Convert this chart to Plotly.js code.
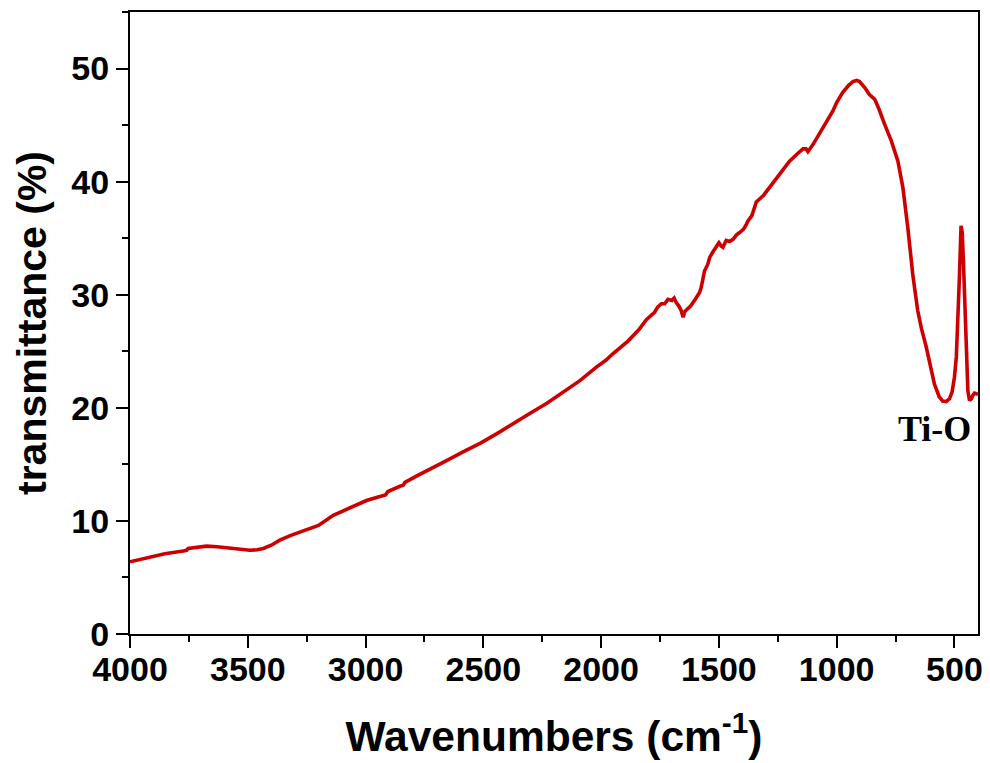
<!DOCTYPE html>
<html>
<head>
<meta charset="utf-8">
<script src="https://cdn.plot.ly/plotly-3.0.1.min.js"></script>
<style>html,body{margin:0;padding:0;background:#fff;}#chart{width:990px;height:763px;}</style>
</head>
<body>
<div id="chart"></div>
<script>
// Wavenumbers (cm^-1) and transmittance (%)
const wavenumber = [4000,3915,3852,3774,3760,3753,3720,3675,3630,3590,3540,3491,3460,3434,3400,3364,3320,3279,3200,3137,3070,2996,2950,2932,2915,2905,2880,2854,2840,2833,2780,2727,2650,2586,2510,2444,2370,2303,2230,2162,2090,2020,1980,1949,1886,1840,1808,1773,1760,1744,1730,1716,1700,1690,1681,1670,1660,1652,1645,1638,1620,1600,1582,1575,1561,1547,1539,1525,1511,1500,1490,1483,1469,1455,1440,1425,1412,1395,1384,1377,1360,1341,1310,1271,1240,1200,1170,1143,1130,1122,1100,1073,1044,1016,1000,974,950,931,915,903,880,861,839,820,797,768,740,719,698,677,656,640,620,600,585,565,550,535,521,510,500,492,486,479,472,467,462,456,450,443,436,428,422,415,408,400];
const transmittance = [6.38,6.77,7.1,7.33,7.4,7.56,7.65,7.77,7.72,7.62,7.48,7.41,7.45,7.56,7.85,8.3,8.7,9.03,9.6,10.5,11.1,11.8,12.1,12.18,12.3,12.6,12.85,13.06,13.15,13.4,14.0,14.6,15.4,16.1,16.9,17.7,18.6,19.5,20.4,21.4,22.4,23.6,24.2,24.8,25.9,26.9,27.8,28.45,28.9,29.2,29.2,29.6,29.5,29.7,29.3,29.0,28.6,28.0,28.5,28.65,29.0,29.6,30.2,30.65,32.1,32.7,33.3,33.8,34.3,34.6,34.3,34.2,34.8,34.7,34.9,35.3,35.5,35.8,36.2,36.5,37.0,38.2,38.8,39.9,40.8,41.8,42.4,42.9,42.9,42.65,43.3,44.2,45.2,46.25,47.0,47.9,48.5,48.85,48.95,48.85,48.3,47.7,47.3,46.4,45.1,43.6,41.8,39.5,35.95,31.8,28.6,27.0,25.4,23.6,22.1,21.0,20.6,20.55,20.8,21.4,22.7,24.5,27.1,31.5,36.1,35.5,33.0,28.5,24.2,21.5,20.65,20.8,21.1,21.3,21.25,21.2];
const xTickVals = [4000,3500,3000,2500,2000,1500,1000,500];
const yTickVals = [0,10,20,30,40,50];
const annotationText = "Ti-O";

const sans = "Liberation Sans, Arial, Helvetica, sans-serif";

const trace = {
  x: wavenumber,
  y: transmittance,
  type: "scatter",
  mode: "lines",
  line: {color: "#cc0000", width: 3.6},
  hoverinfo: "skip"
};

const layout = {
  width: 990,
  height: 763,
  margin: {l: 130, r: 12, t: 12, b: 129},
  paper_bgcolor: "#ffffff",
  plot_bgcolor: "#ffffff",
  showlegend: false,
  xaxis: {
    range: [4000, 400],
    tickvals: xTickVals,
    ticks: "outside",
    ticklen: 12,
    tickwidth: 2,
    tickcolor: "#000",
    ticklabelstandoff: -8,
    showline: true,
    linecolor: "#000",
    linewidth: 2,
    mirror: true,
    showgrid: false,
    zeroline: false,
    minor: {dtick: 250, tick0: 0, ticks: "outside", ticklen: 6, tickwidth: 2, tickcolor: "#000", showgrid: false},
    tickfont: {family: sans, size: 34, color: "#000", weight: "bold"},
    title: {text: "Wavenumbers (cm<sup>-1</sup>)", font: {family: sans, size: 42.5, color: "#000", weight: "bold"}, standoff: 34}
  },
  yaxis: {
    range: [0, 55],
    tickvals: yTickVals,
    ticks: "outside",
    ticklen: 12,
    tickwidth: 2,
    tickcolor: "#000",
    showline: true,
    linecolor: "#000",
    linewidth: 2,
    mirror: true,
    showgrid: false,
    zeroline: false,
    minor: {dtick: 5, tick0: 0, ticks: "outside", ticklen: 6, tickwidth: 2, tickcolor: "#000", showgrid: false},
    tickfont: {family: sans, size: 34, color: "#000", weight: "bold"},
    title: {text: "transmittance (%)", font: {family: sans, size: 41, color: "#000", weight: "bold"}, standoff: 12}
  },
  annotations: [{
    text: annotationText,
    x: 585, y: 18.1, xref: "x", yref: "y",
    showarrow: false,
    font: {family: "Liberation Serif, Times New Roman, serif", size: 36, color: "#000", weight: "bold"}
  }]
};

Plotly.newPlot("chart", [trace], layout, {displayModeBar: false, staticPlot: true});
</script>
</body>
</html>
